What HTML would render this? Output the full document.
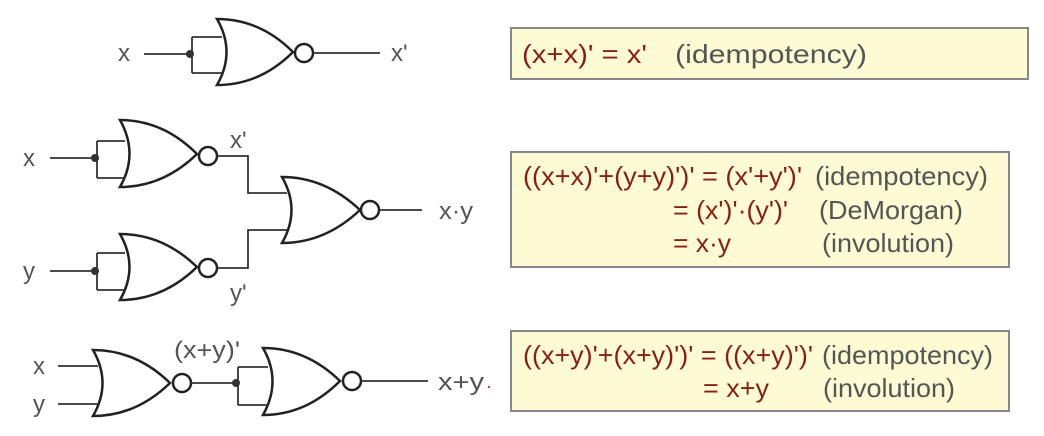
<!DOCTYPE html>
<html><head><meta charset="utf-8"><style>
html,body{margin:0;padding:0;background:#fff;}
svg{display:block;}
text{font-family:"Liberation Sans",sans-serif;}
.l{fill:#555;font-size:24px;}
.r{fill:#8b1e14;font-size:26px;}
.g{fill:#555;font-size:26px;}
</style></head><body>
<svg width="1044" height="436" viewBox="0 0 1044 436" xmlns="http://www.w3.org/2000/svg">
<g fill="none" stroke="#222" stroke-width="2.5">
<path d="M217,19 Q260,19 293,52 Q260,85 217,85 Q236,52 217,19 Z"/>
<circle cx="304" cy="53" r="9"/>
<path d="M120,120 Q163,120 197,154 Q163,187 120,187 Q139,154 120,120 Z"/>
<circle cx="208" cy="156" r="9"/>
<path d="M120,234 Q163,234 197,267 Q163,300 120,300 Q139,267 120,234 Z"/>
<circle cx="208" cy="268" r="9"/>
<path d="M282,177 Q325,177 360,210 Q325,243 282,243 Q301,210 282,177 Z"/>
<circle cx="370" cy="210" r="9"/>
<path d="M93,350 Q136,350 170,383 Q136,416 93,416 Q112,383 93,350 Z"/>
<circle cx="182" cy="383" r="9"/>
<path d="M263,348 Q306,348 340,381 Q306,415 263,415 Q282,381 263,348 Z"/>
<circle cx="352" cy="381" r="9"/>
</g>
<g fill="none" stroke="#333" stroke-width="1.8">
<path d="M144,54 H190 M192,37 V73 M192,37 H222 M192,73 H222 M313,53 H380"/>
<path d="M50,158 H95 M97,141 V178 M97,141 H125 M97,178 H125"/>
<path d="M50,271 H95 M97,253 V290 M97,253 H125 M97,290 H125"/>
<path d="M217,156 H248 V193 H287 M217,268 H248 V230 H287 M379,210 H422"/>
<path d="M58,366 H98 M58,404 H98"/>
<path d="M191,383 H236 M238,367 V405 M238,367 H268 M238,405 H268 M361,381 H428"/>
</g>
<g fill="#333">
<circle cx="190" cy="54" r="4"/>
<circle cx="95" cy="158" r="4"/>
<circle cx="95" cy="271" r="4"/>
<circle cx="236" cy="383" r="4"/>
</g>
<g>
<text class="l" x="118" y="61">x</text>
<text class="l" x="391" y="61">x'</text>
<text class="l" x="23" y="166">x</text>
<text class="l" x="230" y="148">x'</text>
<text class="l" x="23" y="279">y</text>
<text class="l" x="230" y="301">y'</text>
<text class="l" x="439" y="219" textLength="34" lengthAdjust="spacingAndGlyphs">x·y</text>
<text class="l" x="174" y="358" textLength="66" lengthAdjust="spacingAndGlyphs">(x+y)'</text>
<text class="l" x="33" y="374">x</text>
<text class="l" x="33" y="412">y</text>
<text class="l" x="438" y="390" textLength="46" lengthAdjust="spacingAndGlyphs">x+y</text>
<circle cx="489" cy="387" r="1.2" fill="#c44"/>
</g>
<g fill="#fcfbd4" stroke="#888" stroke-width="2">
<rect x="511" y="28" width="517" height="51"/>
<rect x="511" y="152" width="498" height="115"/>
<rect x="511" y="331" width="498" height="80"/>
</g>
<text class="r" x="522" y="63" textLength="125" lengthAdjust="spacingAndGlyphs">(x+x)' = x'</text>
<text class="g" x="675" y="63" textLength="192" lengthAdjust="spacingAndGlyphs">(idempotency)</text>
<text class="r" x="523" y="185" textLength="279" lengthAdjust="spacingAndGlyphs">((x+x)'+(y+y)')' = (x'+y')'</text>
<text class="g" x="815" y="185" textLength="173" lengthAdjust="spacingAndGlyphs">(idempotency)</text>
<text class="r" x="673" y="219" textLength="115" lengthAdjust="spacingAndGlyphs">= (x')'·(y')'</text>
<text class="g" x="819" y="219" textLength="144" lengthAdjust="spacingAndGlyphs">(DeMorgan)</text>
<text class="r" x="673" y="252" textLength="58" lengthAdjust="spacingAndGlyphs">= x·y</text>
<text class="g" x="822" y="252" textLength="132" lengthAdjust="spacingAndGlyphs">(involution)</text>
<text class="r" x="523" y="364" textLength="290" lengthAdjust="spacingAndGlyphs">((x+y)'+(x+y)')' = ((x+y)')'</text>
<text class="g" x="822" y="364" textLength="171" lengthAdjust="spacingAndGlyphs">(idempotency)</text>
<text class="r" x="703" y="397" textLength="66" lengthAdjust="spacingAndGlyphs">= x+y</text>
<text class="g" x="823" y="397" textLength="132" lengthAdjust="spacingAndGlyphs">(involution)</text>
</svg>
</body></html>
